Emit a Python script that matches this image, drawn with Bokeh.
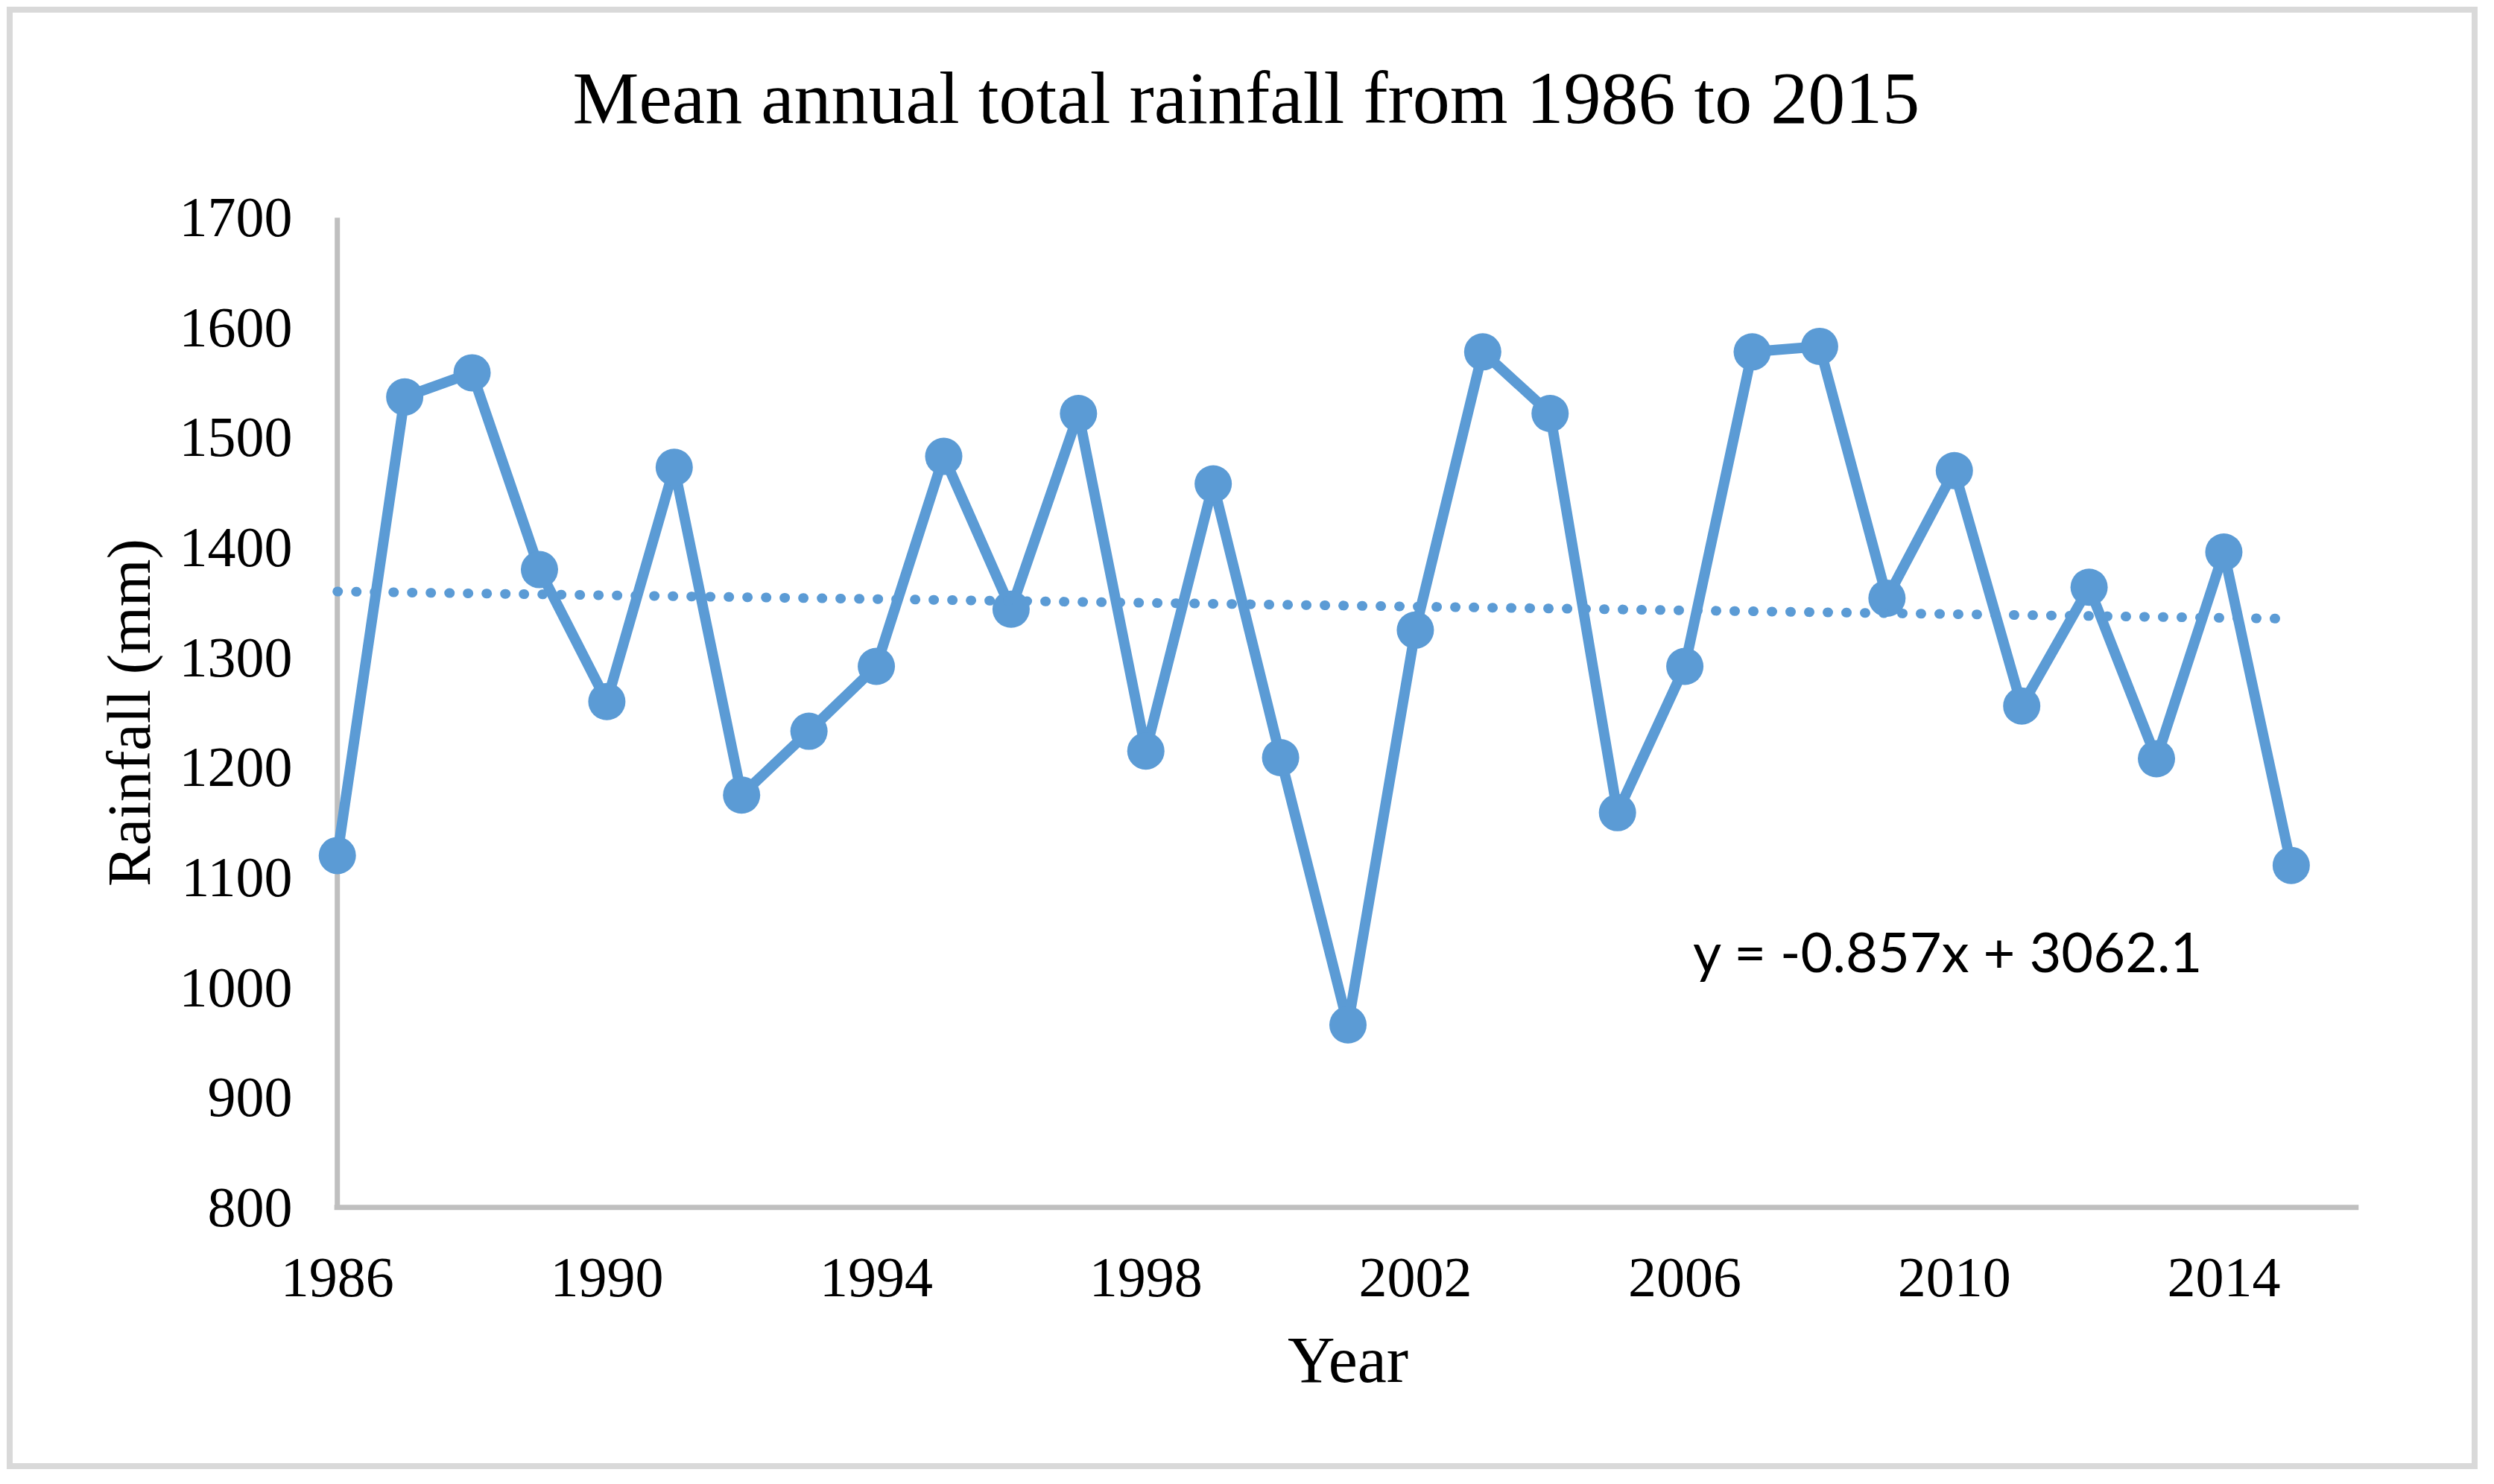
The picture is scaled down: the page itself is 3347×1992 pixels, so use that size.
from bokeh.plotting import figure
from bokeh.layouts import column
from bokeh.models import Range1d, FixedTicker, Label, Title
from bokeh.embed import file_html
from bokeh.resources import INLINE

# ---- data ----
years = list(range(1986, 2016))
rainfall = [1120, 1537, 1559, 1380, 1260, 1473, 1175, 1233, 1292, 1483,
            1344, 1522, 1215, 1458, 1209, 966, 1325, 1578, 1522, 1159,
            1292, 1578, 1583, 1354, 1470, 1256, 1364, 1208, 1396, 1111]
trend_slope = -0.857
trend_intercept = 3062.1
x_ticks = [1986, 1990, 1994, 1998, 2002, 2006, 2010, 2014]
y_ticks = [800, 900, 1000, 1100, 1200, 1300, 1400, 1500, 1600, 1700]
x_axis_end = 2016
title_text = "Mean annual total rainfall from 1986 to 2015"
x_label = "Year"
y_label = "Rainfall (mm)"
eq_text = "y = -0.857x + 3062.1"

BLUE = "#5B9BD5"
AXIS_GREY = "#BFBFBF"
SERIF = "Liberation Serif"

p = figure(width=3300, height=1947, title=None,
           x_range=Range1d(x_ticks[0] - 0.5, x_axis_end + 0.5),
           y_range=Range1d(y_ticks[0] - 10, y_ticks[-1] + 10),
           output_backend="svg", toolbar_location=None,
           min_border_left=390, min_border_right=107,
           min_border_top=260, min_border_bottom=329,
           background_fill_color="white", border_fill_color="white",
           outline_line_color=None)

# spacer between plot area and title, then the title itself
p.add_layout(Title(text=" ", text_font_size="20px", standoff=67), "above")
p.add_layout(Title(text=title_text, text_font=SERIF, text_font_size="100px",
                   text_font_style="normal", text_color="black",
                   align="left", offset=361, standoff=0,
                   vertical_align="bottom"), "above")

p.xgrid.visible = False
p.ygrid.visible = False

for ax in (p.xaxis[0], p.yaxis[0]):
    ax.axis_line_color = None
    ax.major_tick_line_color = None
    ax.minor_tick_line_color = None
    ax.major_tick_out = 0
    ax.major_tick_in = 0
    ax.major_label_text_font = SERIF
    ax.major_label_text_font_size = "76px"
    ax.major_label_text_color = "black"
    ax.axis_label_text_font = SERIF
    ax.axis_label_text_font_style = "normal"
    ax.axis_label_text_color = "black"

p.xaxis.ticker = FixedTicker(ticks=x_ticks)
p.yaxis.ticker = FixedTicker(ticks=y_ticks)
p.xaxis.axis_label = x_label
p.yaxis.axis_label = y_label
p.xaxis.axis_label_text_font_size = "88px"
p.yaxis.axis_label_text_font_size = "82px"
p.xaxis.major_label_standoff = 54
p.xaxis.axis_label_standoff = 34
p.yaxis.major_label_standoff = 15
p.yaxis.axis_label_standoff = 19

# axis lines (Excel style, grey)
p.segment(x0=[x_ticks[0]], y0=[y_ticks[0]], x1=[x_ticks[0]], y1=[y_ticks[-1]],
          line_color=AXIS_GREY, line_width=7)
p.segment(x0=[x_ticks[0] - 0.045], y0=[y_ticks[0]], x1=[x_axis_end], y1=[y_ticks[0]],
          line_color=AXIS_GREY, line_width=7)

# data series
p.line(years, rainfall, line_color=BLUE, line_width=14, line_join="round")
p.scatter(years, rainfall, size=50, fill_color=BLUE, line_color=None, marker="circle")

# linear trend line
tx = [years[0], years[-1]]
ty = [trend_slope * x + trend_intercept for x in tx]
p.line(tx, ty, line_color=BLUE, line_width=13, line_dash="1 24", line_cap="round")

# equation label
p.add_layout(Label(x=2006.12, y=1033.4, text=eq_text, text_font="Lato",
                   text_font_size="74px", text_color="black",
                   text_baseline="alphabetic", text_align="left"))

# outer chart border (light grey frame around the whole chart)
layout = column(p, styles={"border": "8px solid #D9D9D9", "margin": "9px 0 0 9px"})

open("out.html", "w").write(file_html(layout, INLINE))
